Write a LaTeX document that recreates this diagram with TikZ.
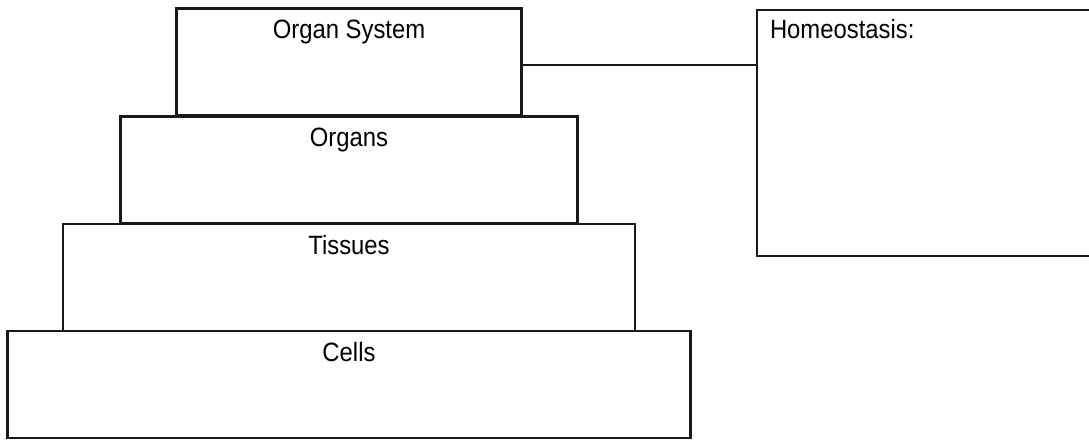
\documentclass[tikz,border=0pt]{standalone}
\usepackage{fontspec}
\setmainfont{Liberation Sans}[FakeStretch=0.9]
\usetikzlibrary{positioning}

\begin{document}
\begin{tikzpicture}[x=1pt,y=-1pt,line width=2.8pt,draw=black!90]
    \tikzstyle{every node}=[font=\fontsize{26.5}{30}\selectfont]
    \tikzstyle{level}=[rectangle,draw,inner ysep=0pt,text height=30pt,text depth=77pt]
    \tikzstyle{note}=[level,align=left,inner xsep=13pt,text width=312pt,text height=29pt,text depth=217pt]

    \clip (0,0) rectangle (1089,441);

    % Draw the levels, top to bottom
    \foreach \name / \txt / \w / \y in {os/Organ System/345/62, organs/Organs/457/170,
        tissues/Tissues/572/277.5, cells/Cells/683/384.5}
        \node[level, minimum width=\w pt] (\name) at (349,\y) {\txt};

    % Draw the side box
    \node[note] (homeo) at (926,133) {Homeostasis:};

    % Connect the organ system with the side box
    \draw ([yshift=-3pt]os.east) -- ([yshift=-3pt]os.east -| homeo.west);
\end{tikzpicture}
\end{document}
